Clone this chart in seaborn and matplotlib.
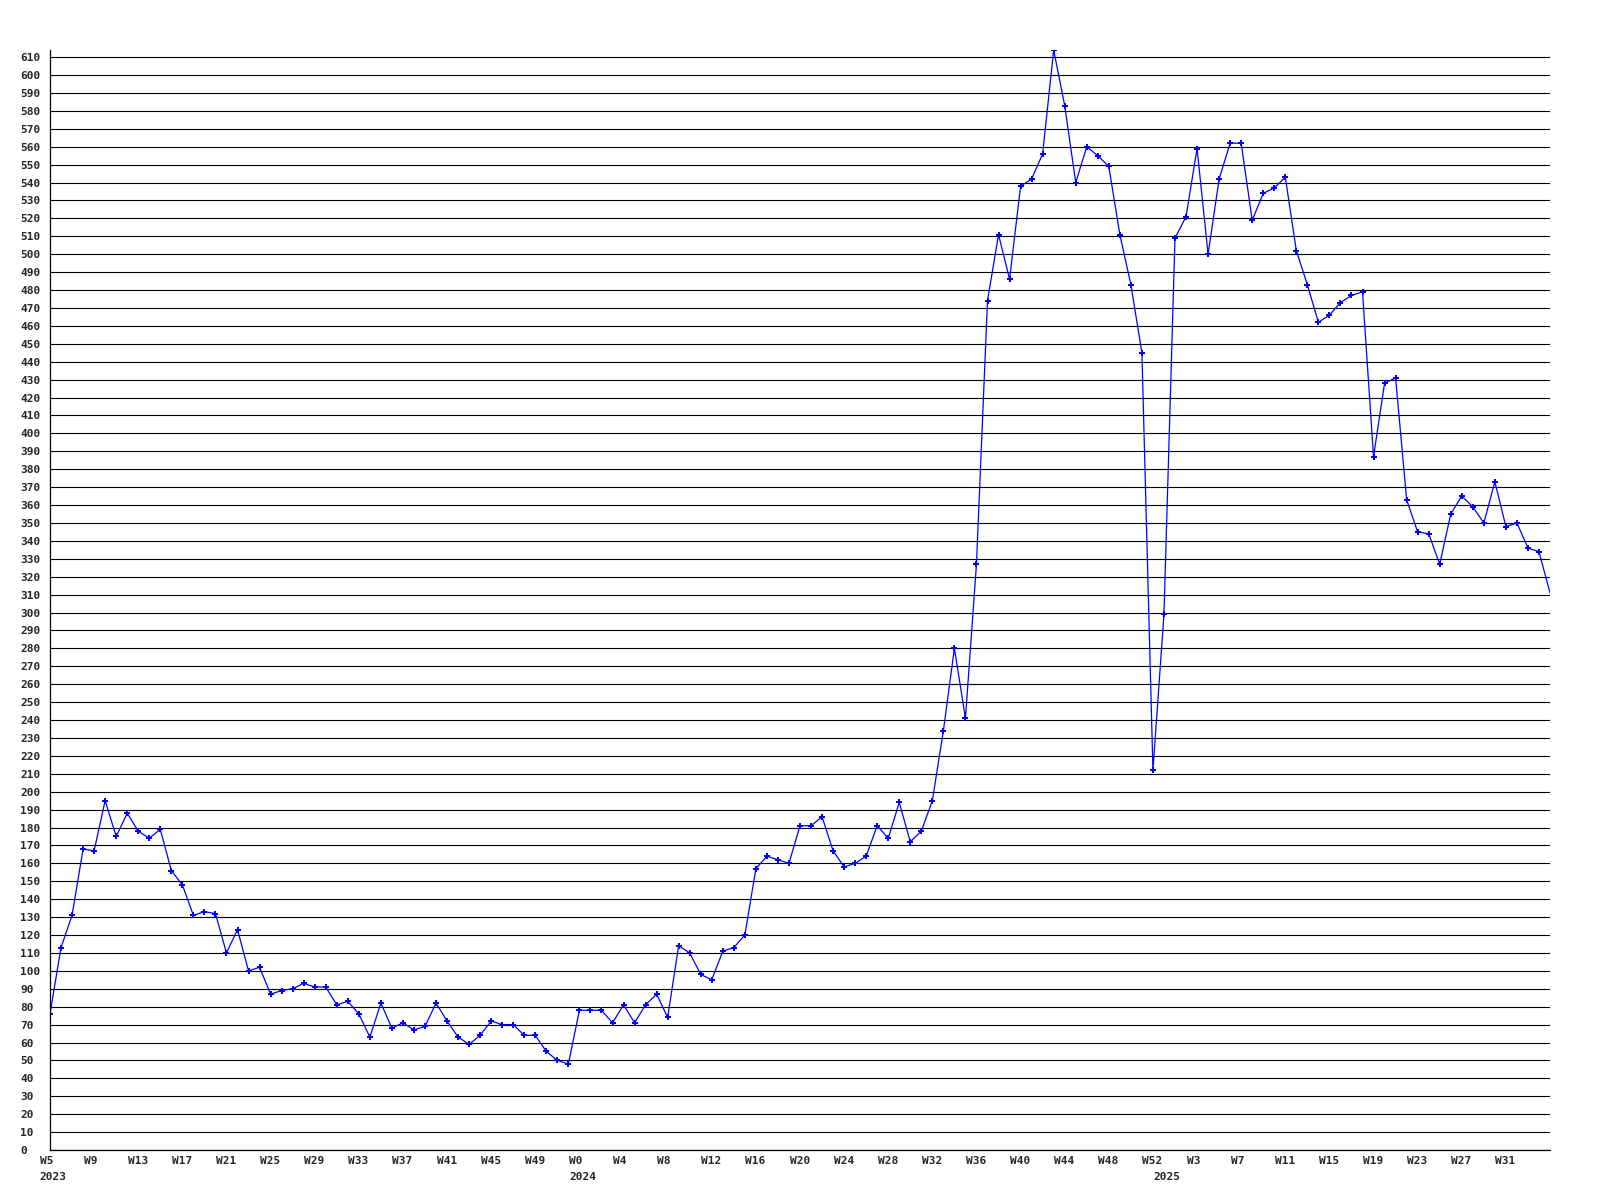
import matplotlib

matplotlib.use("Agg")

import matplotlib.pyplot as plt
import matplotlib.transforms as mtransforms
import pandas as pd
import seaborn as sns

# weekly values
weeks_2023 = list(range(5, 53))
values_2023 = [
    76, 113, 131, 168, 167, 195, 175, 188, 178, 174, 179, 156, 148, 131, 133, 132,
    110, 123, 100, 102, 87, 89, 90, 93, 91, 91, 81, 83, 76, 63, 82, 68,
    71, 67, 69, 82, 72, 63, 59, 64, 72, 70, 70, 64, 64, 55, 50, 48,
]
weeks_2024 = list(range(0, 53))
values_2024 = [
    78, 78, 78, 71, 81, 71, 81, 87, 74, 114, 110, 98, 95, 111, 113, 120,
    157, 164, 162, 160, 181, 181, 186, 167, 158, 160, 164, 181, 174, 194, 172, 178,
    195, 234, 280, 241, 327, 474, 511, 486, 538, 542, 556, 614, 583, 540, 560, 555,
    549, 511, 483, 445, 212,
]
weeks_2025 = list(range(0, 36))
values_2025 = [
    299, 509, 521, 559, 500, 542, 562, 562, 519, 534, 537, 543, 502, 483, 462, 466,
    473, 477, 479, 387, 428, 431, 363, 345, 344, 327, 355, 365, 359, 350, 373, 348,
    350, 336, 334, 311,
]
years = ["2023", "2024", "2025"]

frames = []
for year, weeks, values in zip(years, [weeks_2023, weeks_2024, weeks_2025],
                               [values_2023, values_2024, values_2025]):
    frames.append(pd.DataFrame({"year": year, "week": weeks, "value": values}))
data = pd.concat(frames, ignore_index=True)
data["pos"] = range(len(data))
data["label"] = "W" + data["week"].astype(str)
last = len(data) - 1

sns.set_style("white")
plt.rcParams["font.family"] = ["DejaVu Sans Mono"]
plt.rcParams["font.weight"] = "bold"

fig, ax = plt.subplots(figsize=(16, 12), dpi=100)
fig.subplots_adjust(left=50 / 1600, right=1550 / 1600, bottom=50 / 1200, top=1150 / 1200)

sns.lineplot(data=data, x="pos", y="value", sort=False, estimator=None, ax=ax,
             color="#0000ff", linewidth=0.9, marker="P", markersize=5,
             markeredgewidth=0, markevery=list(range(last)))

ax.set_xlim(0, last)
ax.set_ylim(0, data["value"].max())

yticks = list(range(0, 611, 10))
ax.set_yticks(yticks, [str(v) for v in yticks])
ax.tick_params(axis="y", length=0, pad=21.6, labelsize=8)
for lbl in ax.get_yticklabels():
    lbl.set_horizontalalignment("left")
ax.grid(axis="y", color="black", linewidth=0.8)
ax.grid(axis="x", visible=False)

# a label every 4 weeks, none at the clipped right edge
xt = data.iloc[::4]
xt = xt[xt["pos"] < last]
ax.set_xticks(xt["pos"], xt["label"])
ax.tick_params(axis="x", length=0, pad=4, labelsize=8)
offset = mtransforms.ScaledTranslation(-10.5 / 100, 0, fig.dpi_scale_trans)
for lbl in ax.get_xticklabels():
    lbl.set_horizontalalignment("left")
    lbl.set_transform(lbl.get_transform() + offset)

# year markers under the first week of each year
for year in years:
    first = data[data["year"] == year]["pos"].iloc[0]
    ax.annotate(year, xy=(first, 0), xycoords=("data", "axes fraction"),
                xytext=(-10.5 * 0.72, -27 * 0.72), textcoords="offset points",
                ha="left", va="center", fontsize=8, fontweight="bold")

ax.set_xlabel("")
ax.set_ylabel("")
for side in ["top", "right"]:
    ax.spines[side].set_visible(False)
for side in ["left", "bottom"]:
    ax.spines[side].set_color("black")
    ax.spines[side].set_linewidth(0.9)

fig.savefig("out.png", dpi=100, facecolor="white")
